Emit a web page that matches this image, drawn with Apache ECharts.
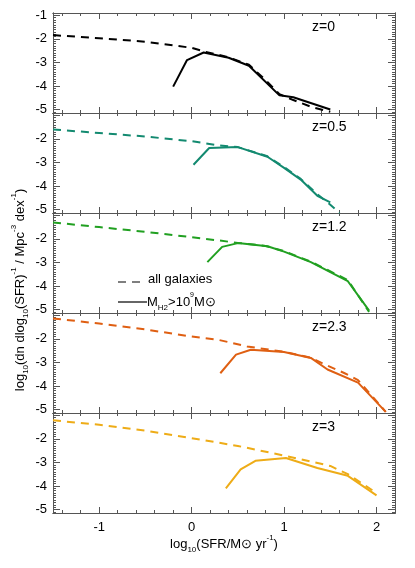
<!DOCTYPE html>
<html>
<head>
<meta charset="utf-8">
<script src="https://cdn.jsdelivr.net/npm/echarts@6/dist/echarts.min.js"></script>
<style>html,body{margin:0;padding:0;background:#fff}#main{width:415px;height:568px}</style>
</head>
<body>
<div id="main"></div>
<script>
var redshifts = ['z=0', 'z=0.5', 'z=1.2', 'z=2.3', 'z=3'];
var colors = ['#000000', '#138a70', '#21a021', '#df5f12', '#eeac17'];

var allZ0 = [[-1.5,-1.84],[-1,-1.97],[-0.5,-2.12],[0,-2.38],[0.15,-2.55],[0.4,-2.78],[0.62,-3.1],[0.8,-3.75],[0.95,-4.35],[1.1,-4.6],[1.3,-4.9],[1.5,-5.1]];
var h2Z0 = [[-0.2,-4.03],[-0.05,-2.9],[0.13,-2.58],[0.4,-2.8],[0.62,-3.14],[0.95,-4.4],[1.1,-4.48],[1.5,-5.0]];
var allZ05 = [[-1.5,-1.6],[-1,-1.75],[-0.5,-1.9],[0,-2.1],[0.3,-2.28],[0.5,-2.35],[0.82,-2.74],[1.0,-3.2],[1.18,-3.7],[1.36,-4.35],[1.5,-4.8],[1.6,-5.15]];
var h2Z05 = [[0.02,-3.1],[0.19,-2.39],[0.5,-2.35],[0.82,-2.76],[1.0,-3.23],[1.18,-3.73],[1.36,-4.42],[1.5,-4.7]];
var allZ12 = [[-1.5,-1.3],[-1,-1.5],[-0.5,-1.7],[0,-1.93],[0.3,-2.07],[0.5,-2.17],[0.8,-2.3],[1.0,-2.52],[1.29,-2.97],[1.69,-3.75],[1.92,-5.1]];
var h2Z12 = [[0.17,-2.99],[0.33,-2.34],[0.5,-2.18],[0.82,-2.31],[1.0,-2.54],[1.29,-2.99],[1.69,-3.8],[1.92,-5.05]];
var allZ23 = [[-1.5,-1.13],[-1,-1.35],[-0.5,-1.6],[0,-1.9],[0.3,-2.05],[0.6,-2.32],[1.0,-2.55],[1.29,-2.8],[1.45,-3.1],[1.65,-3.45],[1.8,-3.75],[2.1,-5.1]];
var h2Z23 = [[0.31,-3.46],[0.48,-2.67],[0.64,-2.46],[1.0,-2.56],[1.29,-2.81],[1.47,-3.3],[1.8,-3.86],[2.1,-5.1]];
var allZ3 = [[-1.5,-1.21],[-1,-1.4],[-0.5,-1.65],[0,-1.97],[0.5,-2.3],[1.0,-2.71],[1.5,-3.15],[1.69,-3.5],[2.0,-4.3]];
var h2Z3 = [[0.37,-4.1],[0.53,-3.3],[0.69,-2.93],[1.02,-2.81],[1.36,-3.24],[1.69,-3.57],[2.0,-4.4]];
var allSets = [allZ0, allZ05, allZ12, allZ23, allZ3];
var h2Sets = [h2Z0, h2Z05, h2Z12, h2Z23, h2Z3];

var xMajor = [-1, 0, 1, 2];
var xMinor = [];
for (var v = -14; v <= 22; v += 2) xMinor.push(v / 10);
var yMinor = [];
for (var w = -51; w <= -9; w++) yMinor.push(w / 10);

var myChart = echarts.init(document.getElementById('main'));
var grids = [], xAxes = [], yAxes = [], series = [], graphics = [];
var font = 'Liberation Sans, Arial, sans-serif';

function xAx(g, pos, vals, len, labels) {
  return {type: 'value', gridIndex: g, position: pos, min: -1.5, max: 2.2,
    axisLine: {show: true, onZero: false, lineStyle: {color: '#555', width: 1}}, splitLine: {show: false},
    axisTick: {inside: true, length: len, customValues: vals, lineStyle: {color: '#555'}},
    axisLabel: {show: labels, customValues: xMajor, color: '#000', fontSize: 13, fontFamily: font, margin: 8}};
}
function yAx(g, pos, vals, len, labels, labVals) {
  return {type: 'value', gridIndex: g, position: pos, min: -5.15, max: -0.9,
    axisLine: {show: true, onZero: false, lineStyle: {color: '#555', width: 1}}, splitLine: {show: false},
    axisTick: {inside: true, length: len, customValues: vals, lineStyle: {color: '#555'}},
    axisLabel: {show: labels, customValues: labVals, color: '#000', fontSize: 13, fontFamily: font, margin: 6}};
}

for (var i = 0; i < 5; i++) {
  grids.push({left: 53, right: 20, top: 13 + 100 * i, height: 100});
  var yLab = i === 0 ? [-5, -4, -3, -2, -1] : [-5, -4, -3, -2];
  var bx = xAxes.length;
  xAxes.push(xAx(i, 'bottom', xMajor, 6, i === 4));
  xAxes.push(xAx(i, 'bottom', xMinor, 3, false));
  xAxes.push(xAx(i, 'top', xMajor, 6, false));
  xAxes.push(xAx(i, 'top', xMinor, 3, false));
  var by = yAxes.length;
  yAxes.push(yAx(i, 'left', [-5, -4, -3, -2, -1], 7, true, yLab));
  yAxes.push(yAx(i, 'left', yMinor, 3, false, yLab));
  yAxes.push(yAx(i, 'right', [-5, -4, -3, -2, -1], 7, false, yLab));
  yAxes.push(yAx(i, 'right', yMinor, 3, false, yLab));
  series.push({type: 'line', xAxisIndex: bx, yAxisIndex: by, data: allSets[i], symbol: 'none', clip: true,
    lineStyle: {color: colors[i], width: 2, type: [8, 6]}, z: 3});
  series.push({type: 'line', xAxisIndex: bx, yAxisIndex: by, data: h2Sets[i], symbol: 'none', clip: true,
    lineStyle: {color: colors[i], width: 2}, z: 4});
  graphics.push({type: 'text', left: 312, top: 20 + 100 * i,
    style: {text: redshifts[i], font: '14px ' + font, fill: '#000'}});
}

graphics.push({type: 'line', shape: {x1: 118, y1: 282, x2: 140, y2: 282}, style: {stroke: '#000', lineWidth: 1.2, lineDash: [8, 6]}});
graphics.push({type: 'text', left: 148, top: 273, style: {text: 'all galaxies', font: '13px ' + font, fill: '#000'}});
graphics.push({type: 'line', shape: {x1: 118, y1: 302, x2: 147, y2: 302}, style: {stroke: '#000', lineWidth: 1.2}});
graphics.push({type: 'text', x: 147, y: 302, style: {
  text: '{n|M}{s|H2}{n|>10}{p|9}{n|M\u2299}',
  fill: '#000', verticalAlign: 'middle',
  rich: {n: {fontSize: 13, fontFamily: font, lineHeight: 20, verticalAlign: 'middle'},
         s: {fontSize: 8, fontFamily: font, lineHeight: 20, verticalAlign: 'bottom'},
         p: {fontSize: 7, fontFamily: font, lineHeight: 20, verticalAlign: 'top'}}}});
graphics.push({type: 'text', x: 20, y: 290, rotation: Math.PI / 2, style: {
  text: '{n|log}{s|10}{n|(dn dlog}{s|10}{n|(SFR)}{p|-1}{n| / Mpc}{p|-3}{n| dex}{p|-1}{n|)}',
  fill: '#000', align: 'center', verticalAlign: 'middle',
  rich: {n: {fontSize: 13, fontFamily: font, lineHeight: 20, verticalAlign: 'middle'},
         s: {fontSize: 8, fontFamily: font, lineHeight: 20, verticalAlign: 'bottom'},
         p: {fontSize: 8, fontFamily: font, lineHeight: 20, verticalAlign: 'top'}}}});
graphics.push({type: 'text', x: 224, y: 544, style: {
  text: '{n|log}{s|10}{n|(SFR/M\u2299 yr}{p|-1}{n|)}',
  fill: '#000', align: 'center', verticalAlign: 'middle',
  rich: {n: {fontSize: 13, fontFamily: font, lineHeight: 20, verticalAlign: 'middle'},
         s: {fontSize: 8, fontFamily: font, lineHeight: 20, verticalAlign: 'bottom'},
         p: {fontSize: 8, fontFamily: font, lineHeight: 20, verticalAlign: 'top'}}}});

option = {
  animation: false,
  grid: grids,
  xAxis: xAxes,
  yAxis: yAxes,
  series: series,
  graphic: graphics
};
myChart.setOption(option);
</script>
</body>
</html>
